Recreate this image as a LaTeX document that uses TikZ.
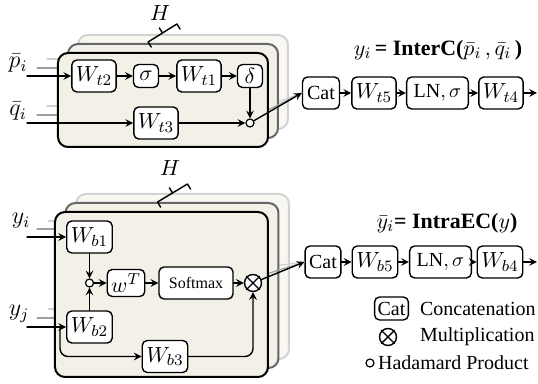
\documentclass[tikz,border=0pt]{standalone}
\usepackage{fontspec}
\setmainfont{Liberation Serif}
\usetikzlibrary{positioning}
\definecolor{panelbg}{RGB}{243,241,231}
\begin{document}
\begin{tikzpicture}[x=5pt,y=-5pt,font=\fontsize{10.95}{13}\selectfont,line join = round, line cap = round,>=stealth,
	blk/.style={draw,fill=white,rounded corners=2.5pt,line width=0.7pt,minimum height=16pt,inner xsep=2pt,inner ysep=0pt},
	sml/.style={blk,minimum height=11.5pt,minimum width=12.5pt,inner xsep=1pt},
	had/.style={draw,circle,fill=white,inner sep=0pt,minimum size=4pt,line width=0.6pt},
	mul/.style={draw,circle,fill=white,inner sep=0pt,minimum size=8.5pt,line width=0.7pt},
	panel/.style={rounded corners=5pt,line width=1pt},
	txt/.style={font=\fontsize{10}{12}\selectfont},
	inlab/.style={font=\fontsize{12}{14}\selectfont},
	conn/.style={line width=0.7pt}]
		\useasboundingbox (0,0) rectangle (53.8,38.4);
		% ---- InterC ----
		\node (ttl1) at (43.8,5) {$y_i$\textbf{\,= InterC(}$\bar{p}_i\,,\bar{q}_i\,$\textbf{)}};
		\node[blk,txt,minimum width=18.5pt] (cat1) at (32.1,9.3) {Cat};
		\node[blk] (wt5) at (37.4,9.3) {$W_{t5}$};
		\node[blk,txt,inner xsep=3.5pt] (ln1) at (43.75,9.3) {LN$,\sigma$};
		\node[blk] (wt4) at (50.1,9.3) {$W_{t4}$};
		\coordinate (out1) at (53.7,9.3);
		\coordinate (hb2) at (27,10.5); \coordinate (hb1) at (26,11.4);
		\draw[gray!35,line width=0.6pt] (4.7,5.9)--(9,5.9) (4.7,10.6)--(9,10.6);
		\draw[panel,draw=gray!35,fill=panelbg!60] (7.8,3.5) rectangle (28.8,12.9);
		\draw[gray!35,line width=0.6pt] (hb2)--(cat1.west);
		\draw[gray!75,line width=0.6pt] (3.7,6.8)--(8,6.8) (3.7,11.5)--(8,11.5);
		\draw[panel,draw=gray!80!black,fill=panelbg] (6.8,4.4) rectangle (27.8,13.8);
		\draw[gray!75,line width=0.6pt] (hb1)--(cat1.west);
		\draw[panel,fill=panelbg] (5.8,5.3) rectangle (26.8,14.7);
		\draw[line width=0.7pt,shift={(16.25,3.3)},rotate=32] (-1.7,0.6)--(-1.7,0)--(1.7,0)--(1.7,0.6) (0,0)--(0,-0.6);
		\node (h1) at (16,1.3) {$H$};
		\node[inlab] (plab) at (1.8,6.3) {$\bar{p}_i$}; \node[inlab] (qlab) at (1.8,11.1) {$\bar{q}_i$};
		\coordinate (pin) at (2.7,7.6); \coordinate (qin) at (2.7,12.3);
		\node[blk] (wt2) at (9.4,7.6) {$W_{t2}$};
		\node[sml] (sg1) at (14.6,7.6) {$\sigma$};
		\node[blk] (wt1) at (19.9,7.6) {$W_{t1}$};
		\node[sml] (dlt) at (25,7.6) {$\delta$};
		\node[blk] (wt3) at (15.6,12.3) {$W_{t3}$};
		\node[had] (hd1) at (25,12.3) {};
		\draw[conn,->] (pin)--(wt2); \draw[conn,->] (wt2)--(sg1); \draw[conn,->] (sg1)--(wt1); \draw[conn,->] (wt1)--(dlt);
		\draw[conn,->] (qin)--(wt3); \draw[conn,->] (wt3)--(hd1); \draw[conn,->] (dlt)--(hd1);
		\draw[conn,->] (hd1)--(cat1.west);
		\draw[conn,->] (cat1)--(wt5); \draw[conn,->] (wt5)--(ln1); \draw[conn,->] (ln1)--(wt4); \draw[conn,->] (wt4)--(out1);
		% ---- IntraEC ----
		\node (ttl2) at (44.7,22.3) {$\bar{y}_i$\textbf{= IntraEC(}$y$\textbf{)}};
		\node[blk,txt,minimum width=17.5pt] (cat2) at (32.3,26.2) {Cat};
		\node[blk] (wb5) at (37.5,26.2) {$W_{b5}$};
		\node[blk,txt,inner xsep=3.5pt] (ln2) at (44.05,26.2) {LN$,\sigma$};
		\node[blk] (wb4) at (50,26.2) {$W_{b4}$};
		\coordinate (out2) at (53.7,26.2);
		\coordinate (mb2) at (27.4,26.6); \coordinate (mb1) at (26.35,27.5);
		\draw[gray!35,line width=0.6pt] (4.8,22.1)--(9,22.1) (4.8,30.9)--(9,30.9);
		\draw[panel,draw=gray!35,fill=panelbg!60] (7.6,19.4) rectangle (28.9,35.9);
		\draw[gray!35,line width=0.6pt] (mb2)--(cat2.west);
		\draw[gray!75,line width=0.6pt] (3.7,22.9)--(8,22.9) (3.7,31.8)--(8,31.8);
		\draw[panel,draw=gray!80!black,fill=panelbg] (6.55,20.3) rectangle (27.85,36.8);
		\draw[gray!75,line width=0.6pt] (mb1)--(cat2.west);
		\draw[panel,fill=panelbg] (5.5,21.2) rectangle (26.8,37.7);
		\draw[line width=0.7pt,shift={(17.25,19.3)},rotate=31] (-1.75,0.6)--(-1.75,0)--(1.75,0)--(1.75,0.6) (0,0)--(0,-0.6);
		\node (h2) at (17,16.8) {$H$};
		\node[inlab] (yilab) at (2.1,22.1) {$y_i$}; \node[inlab] (yjlab) at (1.9,31.4) {$y_j$};
		\coordinate (yiin) at (2.7,23.7); \coordinate (yjin) at (2.7,32.7); \coordinate (br) at (6,32.7);
		\node[blk] (wb1) at (8.95,23.7) {$W_{b1}$};
		\node[had] (hd2) at (8.95,28.3) {};
		\node[blk,minimum height=13.5pt] (wT) at (12.6,28.3) {$w^T$};
		\node[blk,font=\footnotesize,minimum width=37pt] (smx) at (19.6,28.3) {Softmax};
		\node[mul] (ml) at (25.3,28.3) {};
		\draw[conn] (ml.north east)--(ml.south west) (ml.north west)--(ml.south east);
		\node[blk] (wb2) at (8.95,32.7) {$W_{b2}$};
		\node[blk] (wb3) at (16.5,35.65) {$W_{b3}$};
		\draw[conn,->] (yiin)--(wb1); \draw[conn,->] (yjin)--(wb2);
		\draw[conn,->] (wb1)--(hd2); \draw[conn,->] (wb2)--(hd2); \draw[conn,->] (hd2)--(wT); \draw[conn,->] (wT)--(smx); \draw[conn,->] (smx)--(ml);
		\draw[conn,->,rounded corners=4pt] (br)|-(wb3); \draw[conn,->,rounded corners=4pt] (wb3)-|(ml);
		\draw[conn,->] (ml)--(cat2.west);
		\draw[conn,->] (cat2)--(wb5); \draw[conn,->] (wb5)--(ln2); \draw[conn,->] (ln2)--(wb4); \draw[conn,->] (wb4)--(out2);
		% ---- legend ----
		\node[blk,txt,minimum height=11.5pt,inner xsep=1.5pt] (lcat) at (39.15,30.85) {Cat};
		\node[txt,anchor=west] (lcatt) at (41.3,30.85) {Concatenation};
		\node[mul] (lmul) at (38.8,33.7) {};
		\draw[conn] (lmul.north east)--(lmul.south west) (lmul.north west)--(lmul.south east);
		\node[txt,anchor=west] (lmult) at (41.3,33.7) {Multiplication};
		\node[had] (lhad) at (37,36.3) {};
		\node[txt,anchor=west] (lhadt) at (37.1,36.3) {Hadamard Product};
\end{tikzpicture}
\end{document}
